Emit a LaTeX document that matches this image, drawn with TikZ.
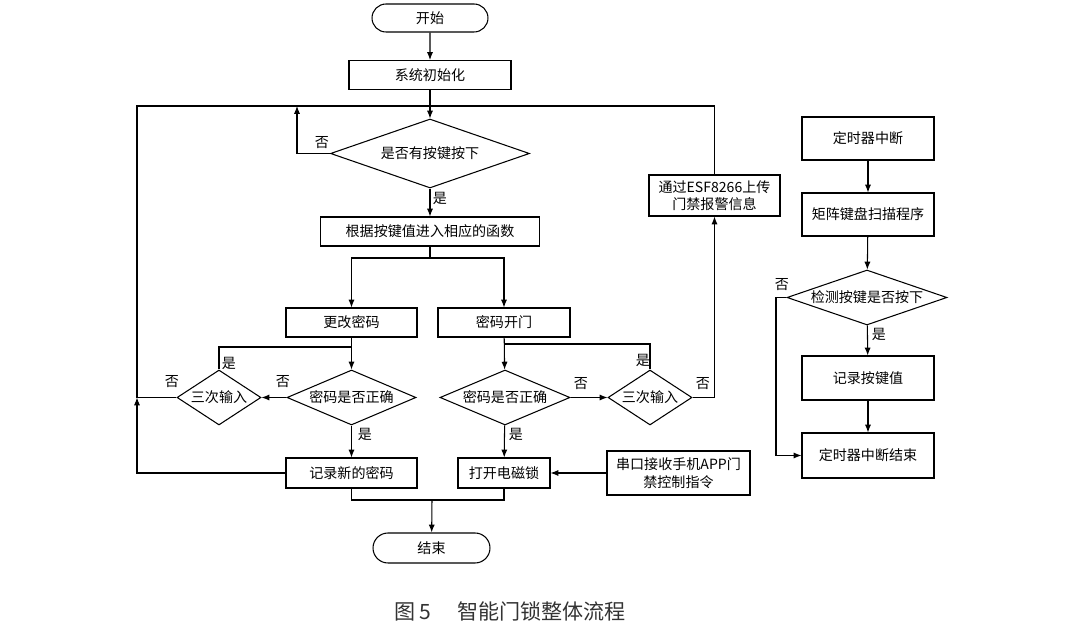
\documentclass[tikz,border=0pt]{standalone}
\usepackage{fontspec}
\setmainfont{Noto Sans CJK SC}
\usetikzlibrary{shapes.geometric,shapes.misc,arrows.meta}

\begin{document}
\begin{tikzpicture}[x=0.02cm, y=-0.02cm, line width=0.6pt,
		every node/.append style={font=\fontsize{8}{10}\selectfont},
		box/.style={draw=black,rectangle,inner sep=0pt,align=center},
		term/.style={draw=black,rounded rectangle,inner sep=0pt},
		dia/.style={draw=black,diamond,inner sep=0pt,shape aspect=#1},
		arr/.style={-{Latex[length=4.5pt,width=3.5pt]}},
		lbl/.style={inner sep=0pt}]
			\useasboundingbox (0,0) rectangle (1080,628);
			% main flow
			\node[term,minimum width=2.32cm,minimum height=0.56cm] (start) at (430,18){开始};
			\node[box,minimum width=3.24cm,minimum height=0.58cm] (init) at (430,75){系统初始化};
			\node[dia=2.9,minimum width=3.98cm,minimum height=1.38cm] (key) at (430,153.5){是否有按键按下};
			\node[box,minimum width=4.38cm,minimum height=0.58cm] (func) at (430,231.5){根据按键值进入相应的函数};
			\node[box,minimum width=2.62cm,minimum height=0.58cm] (chg) at (351.5,322.5){更改密码};
			\node[box,minimum width=2.64cm,minimum height=0.58cm] (opn) at (504,322.5){密码开门};
			\node[dia=2.4,minimum width=2.58cm,minimum height=1.1cm] (pwa) at (351.5,397.5){密码是否正确};
			\node[dia=1.5,minimum width=1.68cm,minimum height=1.1cm] (tria) at (219,397.5){三次输入};
			\node[box,minimum width=2.62cm,minimum height=0.6cm] (rec) at (351.5,473){记录新的密码};
			\node[dia=2.4,minimum width=2.6cm,minimum height=1.1cm] (pwb) at (505,397.5){密码是否正确};
			\node[dia=1.5,minimum width=1.68cm,minimum height=1.1cm] (trib) at (650,397.5){三次输入};
			\node[box,minimum width=2.62cm,minimum height=0.82cm] (esf) at (714.5,195.5){通过ESF8266上传\\门禁报警信息};
			\node[box,minimum width=1.84cm,minimum height=0.6cm] (lock) at (504,473){打开电磁锁};
			\node[box,minimum width=2.86cm,minimum height=0.88cm] (app) at (678.5,473){串口接收手机APP门\\禁控制指令};
			\node[term,minimum width=2.34cm,minimum height=0.6cm] (end) at (431.5,548){结束};
			% timer interrupt
			\node[box,minimum width=2.64cm,minimum height=0.86cm] (tmr) at (868,138.5){定时器中断};
			\node[box,minimum width=2.64cm,minimum height=0.86cm] (scan) at (868,214.5){矩阵键盘扫描程序};
			\node[dia=2.9,minimum width=3.2cm,minimum height=1.1cm] (chk) at (867,297.5){检测按键是否按下};
			\node[box,minimum width=2.64cm,minimum height=0.88cm] (kval) at (868,378){记录按键值};
			\node[box,minimum width=2.64cm,minimum height=0.9cm] (tend) at (868,455.5){定时器中断结束};
			% junctions
			\coordinate (top) at (430,106);
			\coordinate (back) at (297,106);
			\coordinate (fork) at (430,258);
			\coordinate (ja) at (351.5,347);
			\coordinate (jb) at (504,344);
			\coordinate (lp) at (137,397.5);
			\coordinate (mrg) at (432,500);
			\coordinate (nk) at (776,297.5);
			% connectors
			\draw[arr] (start) -- (init);
			\draw[arr] (init) -- (key);
			\draw[arr] (key.west) -| (back);
			\draw[arr] (key) -- (func);
			\draw (func) -- (fork);
			\draw[arr] (fork) -| (chg);
			\draw[arr] (fork) -| (opn);
			\draw[arr] (chg) -- (pwa);
			\draw (tria.north) |- (ja);
			\draw[arr] (pwa.west) -- (tria.east);
			\draw[arr] (pwa) -- (rec);
			\draw[arr] (rec.west) -| (lp);
			\draw (tria.west) -- (lp) |- (top);
			\draw[arr] (opn) -- (pwb);
			\draw (trib.north) |- (jb);
			\draw[arr] (pwb.east) -- (trib.west);
			\draw[arr] (trib.east) -| (esf.south);
			\draw (esf.north) |- (top);
			\draw[arr] (pwb) -- (lock);
			\draw[arr] (app.west) -- (lock.east);
			\draw (rec.south) |- (mrg) -| (lock.south);
			\draw[arr] (mrg) -- (end);
			\draw[arr] (tmr) -- (scan);
			\draw[arr] (scan) -- (chk);
			\draw[arr] (chk) -- (kval);
			\draw[arr] (kval) -- (tend);
			\draw[arr] (chk.west) -- (nk) |- (tend.west);
			% yes / no labels
			\node[lbl] (n1) at (322,143){否};
			\node[lbl] (y1) at (440,198){是};
			\node[lbl] (y2) at (229,363){是};
			\node[lbl] (n2) at (283,382){否};
			\node[lbl] (n3) at (172,382){否};
			\node[lbl] (y3) at (365,434){是};
			\node[lbl] (y4) at (643,360){是};
			\node[lbl] (n4) at (581,384){否};
			\node[lbl] (n5) at (703,384){否};
			\node[lbl] (y5) at (516,434){是};
			\node[lbl] (n6) at (782,285){否};
			\node[lbl] (y6) at (879,334){是};
			% caption
			\node[lbl,font=\fontsize{12}{14}\selectfont,text=black!80] (cap) at (510,611){图 5\quad\ 智能门锁整体流程};
		\end{tikzpicture}
\end{document}
